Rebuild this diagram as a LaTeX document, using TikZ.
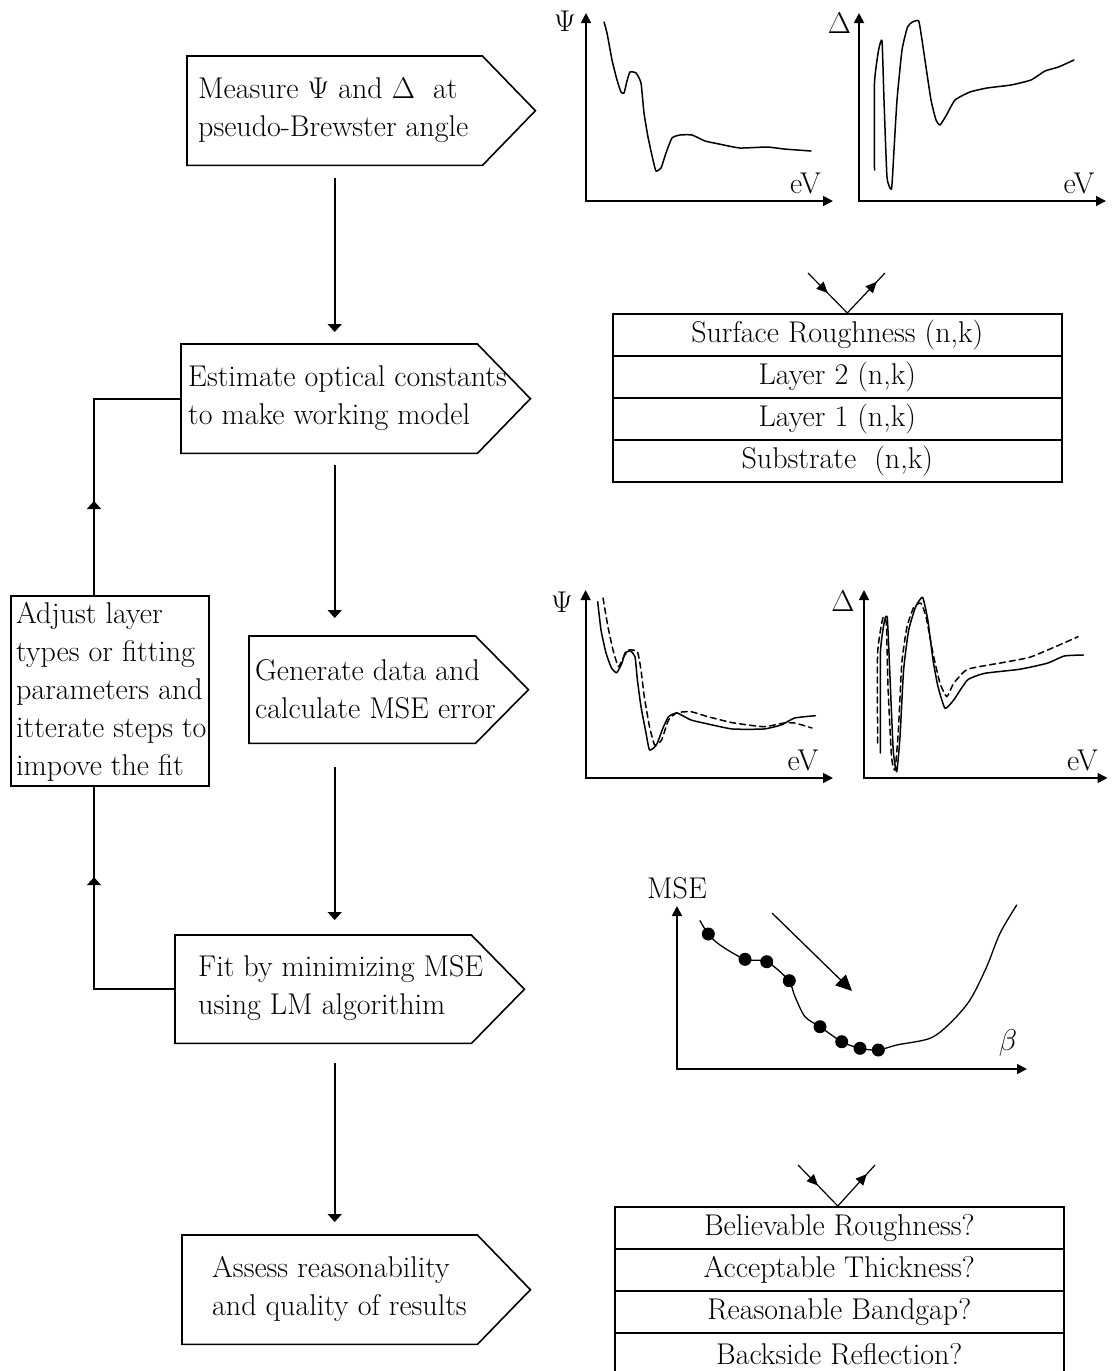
\RequirePackage{fix-cm}
\documentclass[tikz,border=0pt]{standalone}
\usetikzlibrary{arrows.meta,calc,decorations.markings}
\tikzset{
  ln/.style={line width=1.6pt},
  arr/.style={ln, -{Triangle[length=8pt,width=14pt]}},
  axis/.style={line width=1.8pt, {Triangle[length=10pt,width=10pt]}-{Triangle[length=10pt,width=10pt]}},
  sigbox/.style={draw=none, rectangle, inner sep=0pt, anchor=north west},
  txt/.style={font=\fontsize{30}{38}\selectfont, align=left, inner sep=0pt, anchor=west},
  lbl/.style={font=\fontsize{30}{34}\selectfont, inner sep=0pt},
  row/.style={draw, ln, rectangle, inner sep=0pt, minimum width=449pt, minimum height=42pt, anchor=north west, font=\fontsize{30}{34}\selectfont},
  curve/.style={line width=1.5pt, line join=round, line cap=round},
  dcurve/.style={curve, dash pattern=on 6pt off 4pt},
  ray/.style={line width=1.2pt},
  raymark/.style={postaction={decorate}, decoration={markings, mark=at position #1 with {\arrow{Triangle[length=11pt,width=10pt]}}}},
  dot/.style={fill=black},
}
\newcommand\sigoutline[1]{\draw[ln] (#1.north west) -- (#1.north east) -- ([xshift=53pt]#1.east) -- (#1.south east) -- (#1.south west) -- cycle;}
\begin{document}
\begin{tikzpicture}[x=1pt,y=-1pt]
\useasboundingbox (0,0) rectangle (1112,1371);
\fill[white] (0,0) rectangle (1112,1371);

% ---------------- flow boxes ----------------
\node[sigbox, minimum width=295pt, minimum height=109pt] (m) at (187,56) {};
\sigoutline{m}
\node[txt] (mt) at (198,110) {Measure $\Psi$ and $\Delta$\ \ at\\pseudo-Brewster angle};

\node[sigbox, minimum width=296pt, minimum height=109pt] (e) at (181,344) {};
\sigoutline{e}
\node[txt] (et) at (188,398.5) {Estimate optical constants\\to make working model};

\node[sigbox, minimum width=226pt, minimum height=107pt] (g) at (249,636) {};
\sigoutline{g}
\node[txt] (gt) at (255,689) {Generate data and\\calculate MSE error};

\node[sigbox, minimum width=296pt, minimum height=108pt] (f) at (175,935) {};
\sigoutline{f}
\node[txt] (ft) at (198,988.5) {Fit by minimizing MSE\\using LM algorithim};

\node[sigbox, minimum width=295pt, minimum height=109pt] (s) at (182,1235) {};
\sigoutline{s}
\node[txt] (st) at (212,1289) {Assess reasonability\\and quality of results};

\node[sigbox, draw, ln, minimum width=198pt, minimum height=190pt] (a) at (10,595) {};
\node[txt] (atx) at (16,692) {Adjust layer\\types or fitting\\parameters and\\itterate steps to\\impove the fit};

% ---------------- connectors ----------------
\draw[arr, shorten <=13pt, shorten >=12pt] (m.south) -- (m.south |- e.north);
\draw[arr, shorten <=12pt, shorten >=18pt] (e.south -| m.south) -- (g.north -| m.south);
\draw[arr, shorten <=24pt, shorten >=15pt] (g.south -| m.south) -- (f.north -| m.south);
\draw[arr, shorten <=20pt, shorten >=13pt] (f.south -| m.south) -- (s.north -| m.south);

\coordinate (lp) at (94,0);
\draw[ln] (f.west) -| (lp |- a.south);
\draw[arr] (lp |- f.west) -- ++(0,-112);
\draw[ln] (lp |- a.north) |- (e.west);
\draw[arr] (lp |- a.north) -- ++(0,-94);

% ---------------- top plots ----------------
\draw[axis] (586,13) -- (586,201) -- (833,201);
\node[lbl] (p1y) at (565,21) {$\Psi$};
\node[lbl] (p1x) at (805.5,183) {eV};
\draw[curve] plot[smooth, tension=0.3] coordinates {(604,22) (607,33) (612,60) (617,80) (621,92) (624,93) (627,81) (630,72) (636,73) (641,83) (644,113) (648,137) (653,160) (656,171) (661,168) (666,153) (672,138) (680,135) (692,135) (705,141) (719,144) (740,148) (767,147) (784,149) (811,151)};

\draw[axis] (859,13) -- (859,201) -- (1106,201);
\node[lbl] (p2y) at (839.5,23) {$\Delta$};
\node[lbl] (p2x) at (1079,183) {eV};
\draw[curve] plot[smooth, tension=0.3] coordinates {(874.5,170) (874.5,83) (878.6,50) (882,41) (884,100) (887,177) (891.5,189) (894,150) (897,100) (902,50) (907.5,27) (912.5,22) (918.7,21) (922,40) (926,67) (931,100) (936,120) (940,125) (946.5,115) (955,100) (970,92) (987,88) (1011,85) (1031,80) (1045,71) (1058.5,67) (1074,60)};

% ---------------- layer stack ----------------
\node[row] (r1) at (612,313) {Surface Roughness (n,k)};
\node[row] (r2) at (612,355) {Layer 2 (n,k)};
\node[row] (r3) at (612,397) {Layer 1 (n,k)};
\node[row] (r4) at (612,439) {Substrate\ \ (n,k)};
\coordinate (in1) at (808,273);
\coordinate (ap1) at ($(r1.north)+(10,0)$);
\coordinate (out1) at (885,273);
\draw[ray, raymark=0.5] (in1) -- (ap1);
\draw[ray, raymark=0.78] (ap1) -- (out1);

% ---------------- middle plots ----------------
\draw[axis] (585.6,590) -- (585.6,778) -- (833,778);
\node[lbl] (p3y) at (562,602) {$\Psi$};
\node[lbl] (p3x) at (803,760) {eV};
\draw[curve] plot[smooth, tension=0.3] coordinates {(597.7,601.7) (601,630) (606,653) (611.5,668) (616.7,672.7) (622,663) (625,653) (630.5,651) (635,656.7) (637.4,680) (641,706.7) (646,733) (649.5,750) (656.4,745) (663,728) (668.5,716.7) (677,713) (691,720) (708,724) (732.5,729) (763.6,729) (781,725) (794.7,718) (815.4,715.7)};
\draw[dcurve] plot[smooth, tension=0.3] coordinates {(603,598) (608,627) (613,650) (618.4,666.7) (623.6,657) (629,650) (637.4,651.7) (641,670) (644.3,696.7) (649.5,726.7) (654.7,745) (661.6,740) (668.5,720) (677,712.7) (691,711.7) (708,716.7) (732.5,722.7) (763.6,726.7) (784,723) (794.7,723) (812,728)};

\draw[axis] (864,590) -- (864,778) -- (1107.5,778);
\node[lbl] (p4y) at (843,601) {$\Delta$};
\node[lbl] (p4x) at (1082.5,760) {eV};
\draw[curve] plot[smooth, tension=0.3] coordinates {(880.4,753) (880.4,653) (884.6,620) (887.3,618) (889.7,670) (893.2,750) (896.7,771.7) (900,736.7) (903.6,670) (908.7,630) (915.7,606.7) (922.6,597.3) (927.8,620) (933,660) (938,686.7) (945,708.3) (953.7,700) (967.5,680) (984.8,673.3) (1019.4,669.3) (1047,663.3) (1064.3,656) (1083.3,655)};
\draw[dcurve] plot[smooth, tension=0.3] coordinates {(877.6,743) (877.6,653) (882.8,618) (886.3,623) (888,686.7) (891.5,756.7) (895,770) (898.4,730) (901.8,663) (907,626.7) (914,606.7) (921,603.3) (926,616.7) (933,653.3) (940,683.3) (946.8,696.7) (953.7,683.3) (967.5,669.3) (1002,662.7) (1029.7,657.3) (1054,647.3) (1078,636.7)};

% ---------------- MSE plot ----------------
\draw[axis] (677,906) -- (677,1069) -- (1027,1069);
\node[lbl] (p5y) at (677,888) {MSE};
\node[lbl] (p5x) at (1008,1043) {$\beta$};
\draw[curve, line width=1.3pt] plot[smooth, tension=0.5] coordinates {(700,920.7) (708.3,934) (720,945) (745,959.3) (766.7,961.7) (788.3,980) (795,996.7) (805,1016.7) (820,1026.7) (841.7,1041.7) (860,1048.3) (878.3,1050) (896.7,1045) (930,1038.3) (950,1023.3) (970,1000) (986.7,966.7) (1000,933.3) (1016.7,905)};
\foreach \p in {(708.3,934),(745,959.3),(766.7,961.7),(789.3,980.7),(820,1026.7),(841.7,1041.7),(860,1048.3),(878.3,1050)}
  \fill[dot] \p circle[radius=6.5pt];
\draw[line width=1.3pt, -{Triangle[length=16pt,width=15pt]}] (772,913) -- (852,991);

% ---------------- checks stack ----------------
\node[row] (q1) at (614,1206) {Believable Roughness?};
\node[row] (q2) at (614,1248) {Acceptable Thickness?};
\node[row] (q3) at (614,1290) {Reasonable Bandgap?};
\node[row] (q4) at (614,1332) {Backside Reflection?};
\coordinate (in2) at (798,1165);
\coordinate (ap2) at ($(q1.north)+(-1.5,0)$);
\coordinate (out2) at (875,1165);
\draw[ray, raymark=0.5] (in2) -- (ap2);
\draw[ray, raymark=0.78] (ap2) -- (out2);
\end{tikzpicture}
\end{document}
